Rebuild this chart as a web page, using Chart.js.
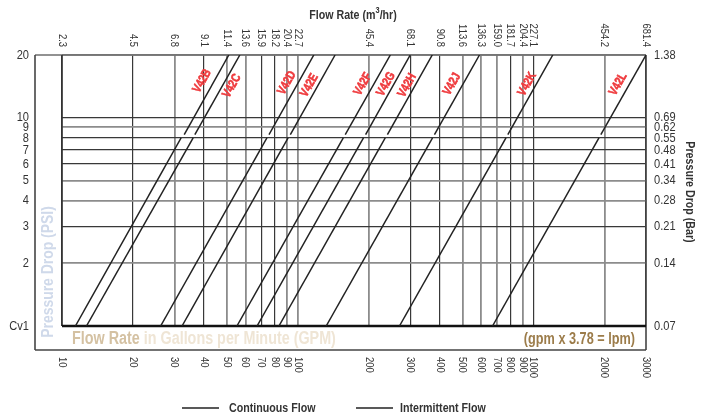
<!DOCTYPE html>
<html>
<head>
<meta charset="utf-8">
<script src="https://cdn.jsdelivr.net/npm/chart.js@4.4.1/dist/chart.umd.min.js"></script>
<style>
  html, body { margin: 0; padding: 0; background: #fff; }
  canvas { display: block; }
</style>
</head>
<body>
<canvas id="flow-chart" width="707" height="417"></canvas>
<script>
// Valve sizing chart: pressure drop vs. flow rate, log-log
const valves = ['V42B', 'V42C', 'V42D', 'V42E', 'V42F', 'V42G', 'V42H', 'V42J', 'V42K', 'V42L']

// flow (gpm) where each line starts on the Cv1 line
const gpmAt1psi   = [11.4, 12.7, 26.2, 32.3, 55.2, 67.2, 83.2, 132, 270, 670]
// end of the continuous section / start of the intermittent section
const gpmContEnd  = [32, 36, 74, 91, 156, 190, 235, 373, 764, 1895]
const gpmIntStart = [33, 36.6, 75.5, 93, 159, 194, 240, 380, 778, 1930]
// flow at the top of the chart (20 psi)
const gpmAt20psi  = [51, 56.8, 117, 144, 247, 300, 372, 590, 1207, 3000]
const contPsi = [1, 8]
const intPsi  = [8.3, 20]

// axes
const gpmTicks   = [10, 20, 30, 40, 50, 60, 70, 80, 90, 100, 200, 300, 400, 500, 600, 700, 800, 900, 1000, 2000, 3000]
const m3hrLabels = ['2.3', '4.5', '6.8', '9.1', '11.4', '13.6', '15.9', '18.2', '20.4', '22.7',
                    '45.4', '68.1', '90.8', '113.6', '136.3', '159.0', '181.7', '204.4', '227.1', '454.2', '681.4']
const psiTicks   = [1, 2, 3, 4, 5, 6, 7, 8, 9, 10, 20]
const psiLabels  = ['Cv1', '2', '3', '4', '5', '6', '7', '8', '9', '10', '20']
const barLabels  = ['0.07', '0.14', '0.21', '0.28', '0.34', '0.41', '0.48', '0.55', '0.62', '0.69', '1.38']

const FONT = "'Liberation Sans', Arial, sans-serif"
const NARROW = 0.82   // squeeze Liberation Sans toward the condensed face of the original
const darkX = new Set([10, 20, 40, 70, 80, 300, 400, 800, 1000, 3000])
const darkY = new Set([3, 6, 7, 8, 10])

const lineStyle = { borderColor: '#222', borderWidth: 1.5, pointRadius: 0, showLine: true, fill: false }
const datasets = []
valves.forEach((v, i) => {
  datasets.push({ label: v + ' continuous', ...lineStyle,
    data: [{ x: gpmAt1psi[i], y: contPsi[0] }, { x: gpmContEnd[i], y: contPsi[1] }] })
  datasets.push({ label: v + ' intermittent', ...lineStyle,
    data: [{ x: gpmIntStart[i], y: intPsi[0] }, { x: gpmAt20psi[i], y: intPsi[1] }] })
})

// where the red valve names sit (gpm, psi)
const nameAt = [[39.3, 15], [52.6, 14.2], [90, 14.7], [112, 14.3], [189, 14.5],
                [237, 14.5], [291, 14.3], [451, 14.5], [939, 14.5], [2286, 14.5]]

// condensed text, optionally rotated; a thin stroke fattens it up
function txt(ctx, str, x, y, angle = 0, align = 'left', sx = NARROW, stroke = 0) {
  ctx.save()
  ctx.translate(x, y)
  ctx.rotate(angle)
  ctx.scale(sx, 1)
  ctx.textAlign = align
  ctx.textBaseline = 'middle'
  ctx.fillText(str, 0, 0)
  if (stroke) {
    ctx.strokeStyle = ctx.fillStyle
    ctx.lineWidth = stroke
    ctx.strokeText(str, 0, 0)
  }
  ctx.restore()
}

function seg(ctx, x1, y1, x2, y2, color, w) {
  ctx.beginPath()
  ctx.strokeStyle = color
  ctx.lineWidth = w
  ctx.moveTo(x1, y1)
  ctx.lineTo(x2, y2)
  ctx.stroke()
}

const decor = {
  id: 'decor',
  beforeDatasetsDraw(chart) {
    const { ctx, chartArea: a } = chart
    const outL = a.left - 27, outB = a.bottom + 24
    ctx.save()
    seg(ctx, outL, a.top, a.right, a.top, '#6e6e6e', 1.6)
    seg(ctx, outL, a.top, outL, outB, '#444', 1.6)
    seg(ctx, a.left, a.top, a.left, a.bottom, '#333', 1.6)
    seg(ctx, outL, outB, a.right, outB, '#444', 1.6)
    seg(ctx, a.right, a.top, a.right, outB, '#444', 1.6)
    seg(ctx, a.left, a.bottom, a.right, a.bottom, '#111', 2.6)
    ctx.restore()
  },
  afterDraw(chart) {
    const { ctx, chartArea: a, scales: { x, y } } = chart
    ctx.save()
    ctx.fillStyle = '#333'

    // top (m3/hr) and bottom (gpm) tick labels
    ctx.font = `11.5px ${FONT}`
    gpmTicks.forEach((g, i) => {
      const px = x.getPixelForValue(g)
      txt(ctx, m3hrLabels[i], px, a.top - 8, Math.PI / 2, 'right')
      txt(ctx, String(g), px, a.bottom + 31, Math.PI / 2, 'left')
    })

    // left (psi) and right (bar) tick labels
    ctx.font = `13.5px ${FONT}`
    psiTicks.forEach((p, i) => {
      const py = y.getPixelForValue(p)
      txt(ctx, psiLabels[i], a.left - 33, py, 0, 'right')
      txt(ctx, barLabels[i], a.right + 8, py, 0, 'left')
    })

    // axis titles
    ctx.font = `bold 13px ${FONT}`
    const t1 = 'Flow Rate (m', t2 = '3', t3 = '/hr)'
    const w1 = ctx.measureText(t1).width * NARROW, w3 = ctx.measureText(t3).width * NARROW
    ctx.font = `bold 9px ${FONT}`
    const w2 = ctx.measureText(t2).width * NARROW
    const tx = 353 - (w1 + w2 + w3) / 2
    ctx.font = `bold 13px ${FONT}`
    txt(ctx, t1, tx, 15)
    txt(ctx, t3, tx + w1 + w2, 15)
    ctx.font = `bold 9px ${FONT}`
    txt(ctx, t2, tx + w1, 11)
    ctx.font = `bold 13px ${FONT}`
    txt(ctx, 'Pressure Drop (Bar)', 690, 192, Math.PI / 2, 'center')

    // titles inside the frame strips
    ctx.font = `bold 17px ${FONT}`
    ctx.fillStyle = '#cfd9ea'
    txt(ctx, 'Pressure Drop (PSI)', a.left - 13.5, 272, -Math.PI / 2, 'center')
    ctx.font = `bold 17.5px ${FONT}`
    ctx.fillStyle = '#d4c1a2'
    txt(ctx, 'Flow Rate', 72, a.bottom + 13)
    const wf = ctx.measureText('Flow Rate ').width * NARROW
    ctx.fillStyle = '#efe5d5'
    txt(ctx, 'in Gallons per Minute (GPM)', 72 + wf, a.bottom + 13)
    ctx.font = `bold 16.5px ${FONT}`
    ctx.fillStyle = '#9c7c4a'
    txt(ctx, '(gpm x 3.78 = lpm)', a.right - 11, a.bottom + 13, 0, 'right', 0.77)

    // valve names along their lines
    const dx = x.getPixelForValue(gpmAt20psi[0]) - x.getPixelForValue(gpmAt1psi[0])
    const dy = y.getPixelForValue(1) - y.getPixelForValue(20)
    const ang = -Math.atan2(dy, dx)
    ctx.font = `bold 12.5px ${FONT}`
    ctx.fillStyle = '#ef3b3e'
    valves.forEach((v, i) => {
      txt(ctx, v, x.getPixelForValue(nameAt[i][0]), y.getPixelForValue(nameAt[i][1]), ang, 'center', 0.8, 0.6)
    })

    // legend
    ctx.font = `bold 13px ${FONT}`
    ctx.fillStyle = '#333'
    seg(ctx, 182, 408, 219, 408, '#222', 1.5)
    txt(ctx, 'Continuous Flow', 229, 408)
    seg(ctx, 356, 408, 393, 408, '#222', 1.5)
    txt(ctx, 'Intermittent Flow', 400, 408)
    ctx.restore()
  }
}

new Chart(document.getElementById('flow-chart'), {
  type: 'scatter',
  data: { datasets },
  options: {
    responsive: false,
    animation: false,
    devicePixelRatio: 1,
    layout: { padding: { left: 62, right: 61, top: 55, bottom: 91 } },
    plugins: { legend: { display: false }, tooltip: { enabled: false } },
    scales: {
      x: {
        type: 'logarithmic', min: 10, max: 3000,
        afterBuildTicks: s => { s.ticks = gpmTicks.map(v => ({ value: v })) },
        afterFit: s => { s.height = 0 },
        ticks: { display: false },
        border: { display: false },
        grid: {
          drawTicks: false,
          color: c => darkX.has(c.tick.value) ? '#383838' : '#8c8c8c',
          lineWidth: c => darkX.has(c.tick.value) ? 1.2 : 1.8,
        },
      },
      y: {
        type: 'logarithmic', min: 1, max: 20,
        afterBuildTicks: s => { s.ticks = psiTicks.map(v => ({ value: v })) },
        afterFit: s => { s.width = 0 },
        ticks: { display: false },
        border: { display: false },
        grid: {
          drawTicks: false,
          color: c => darkY.has(c.tick.value) ? '#383838' : '#8c8c8c',
          lineWidth: c => darkY.has(c.tick.value) ? 1.2 : 1.8,
        },
      },
    },
  },
  plugins: [decor],
})
</script>
</body>
</html>
